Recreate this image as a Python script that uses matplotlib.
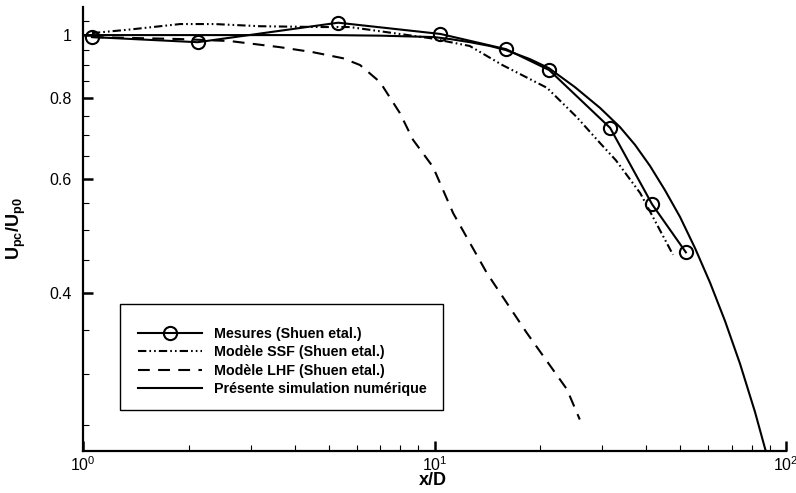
import matplotlib
matplotlib.use("Agg")
import matplotlib.pyplot as plt
from matplotlib.patches import Rectangle
from matplotlib.ticker import FixedLocator, FixedFormatter, LogLocator, LogFormatterSciNotation, NullFormatter

plt.rcParams['font.family'] = ['Liberation Sans', 'DejaVu Sans']
plt.rcParams['mathtext.fontset'] = 'custom'
plt.rcParams['mathtext.rm'] = 'Liberation Sans'
plt.rcParams['mathtext.bf'] = 'Liberation Sans:bold'
plt.rcParams['mathtext.it'] = 'Liberation Sans:italic'
plt.rcParams['lines.scale_dashes'] = False

# Measurements (Shuen et al.)
mes_x = [1.06, 2.12, 5.32, 10.4, 16.0, 21.2, 31.6, 41.6, 51.9]
mes_y = [0.993, 0.975, 1.045, 1.004, 0.951, 0.883, 0.719, 0.548, 0.462]

# SSF model (Shuen et al.)
ssf_x = [1.06, 1.36, 1.89, 2.37, 3.19, 4.72, 5.74, 9.73, 12.6, 15.6, 20.9,
         25.4, 29.6, 32.8, 38.5, 47.7]
ssf_y = [1.007, 1.02, 1.04, 1.04, 1.032, 1.029, 1.029, 0.989, 0.962, 0.899,
         0.829, 0.747, 0.681, 0.641, 0.570, 0.458]

# LHF model (Shuen et al.)
lhf_x = [1.06, 1.89, 2.62, 3.63, 4.51, 5.49, 6.14, 7.0, 7.97, 8.69, 9.9,
         11.3, 14.1, 18.3, 23.8, 25.9]
lhf_y = [0.993, 0.986, 0.979, 0.958, 0.941, 0.921, 0.899, 0.846, 0.758,
         0.689, 0.626, 0.531, 0.429, 0.347, 0.284, 0.255]

# Present numerical simulation
sim_x = [1.0, 2.99, 5.04, 7.0, 9.97, 11.07, 12.62, 14.38, 15.97, 18.70,
         21.17, 25.10, 29.57, 33.71, 37.19, 41.04, 45.27, 49.94, 55.10,
         60.78, 67.06, 73.98, 81.61, 90.0]
sim_y = [1.0, 1.0, 1.0, 0.998, 0.993, 0.986, 0.975, 0.962, 0.948, 0.918,
         0.889, 0.831, 0.772, 0.721, 0.677, 0.628, 0.576, 0.524, 0.469,
         0.415, 0.362, 0.311, 0.262, 0.216]

labels = ["Mesures (Shuen etal.)", "Modèle SSF (Shuen etal.)",
          "Modèle LHF (Shuen etal.)", "Présente simulation numérique"]

y_major = [0.4, 0.6, 0.8, 1.0]
y_major_labels = ["0.4", "0.6", "0.8", "1"]
y_minor = [0.25, 0.3, 0.35, 0.45, 0.5, 0.55, 0.65, 0.7, 0.75, 0.85, 0.9, 0.95, 1.05]

W, H = 796, 493
fig = plt.figure(figsize=(W / 100, H / 100), dpi=100)
ax = fig.add_axes([83 / W, 1 - 451 / H, 703 / W, 444 / H])

lw = 1.5
ax.plot(mes_x, mes_y, color='black', lw=lw, marker='o', ms=9.5,
        mfc='none', mec='black', mew=1.5, label=labels[0], clip_on=False)
ax.plot(ssf_x, ssf_y, color='black', lw=lw,
        dashes=(6, 2.2, 1.2, 2.2, 1.2, 2.2), label=labels[1])
ax.plot(lhf_x, lhf_y, color='black', lw=lw, dashes=(8.5, 6), label=labels[2])
ax.plot(sim_x, sim_y, color='black', lw=lw, label=labels[3])

ax.set_xscale('log')
ax.set_yscale('log')
ax.set_xlim(1, 100)
ax.set_ylim(0.228, 1.105)

ax.xaxis.set_major_locator(LogLocator(base=10, numticks=5))
ax.xaxis.set_major_formatter(LogFormatterSciNotation())
ax.xaxis.set_minor_locator(LogLocator(base=10, subs=range(2, 10), numticks=20))
ax.xaxis.set_minor_formatter(NullFormatter())

ax.yaxis.set_major_locator(FixedLocator(y_major))
ax.yaxis.set_major_formatter(FixedFormatter(y_major_labels))
ax.yaxis.set_minor_locator(FixedLocator(y_minor))
ax.yaxis.set_minor_formatter(NullFormatter())

for s in ('top', 'right'):
    ax.spines[s].set_visible(False)
for s in ('left', 'bottom'):
    ax.spines[s].set_linewidth(1.6)

ax.tick_params(which='major', direction='in', length=7.5, width=1.8,
               labelsize=11.5, top=False, right=False)
ax.tick_params(which='minor', direction='in', length=4.5, width=0.8,
               top=False, right=False)
ax.tick_params(axis='y', which='major', pad=8)
ax.tick_params(axis='x', which='major', pad=3)

ax.set_xlabel("x/D", fontsize=13, fontweight='bold')
ax.xaxis.set_label_coords(0.497, -0.048)
ax.set_ylabel(r"$\mathbf{U_{pc}/U_{p0}}$", fontsize=13)
ax.yaxis.set_label_coords(-0.078, 0.5)

# legend frame and entries
frame = Rectangle((120 / W, 1 - 410 / H), 323 / W, 106 / H,
                  transform=fig.transFigure, facecolor='white',
                  edgecolor='black', lw=1.0, zorder=5)
ax.add_patch(frame)
leg = ax.legend(loc='upper left', bbox_to_anchor=(138 / W, 1 - 327 / H),
                bbox_transform=fig.transFigure, frameon=False,
                prop={'weight': 'bold', 'size': 10.3}, borderpad=0,
                borderaxespad=0, handlelength=4.48, handletextpad=0.84,
                labelspacing=0.3)
leg.set_zorder(6)

fig.savefig("out.png", dpi=100)
